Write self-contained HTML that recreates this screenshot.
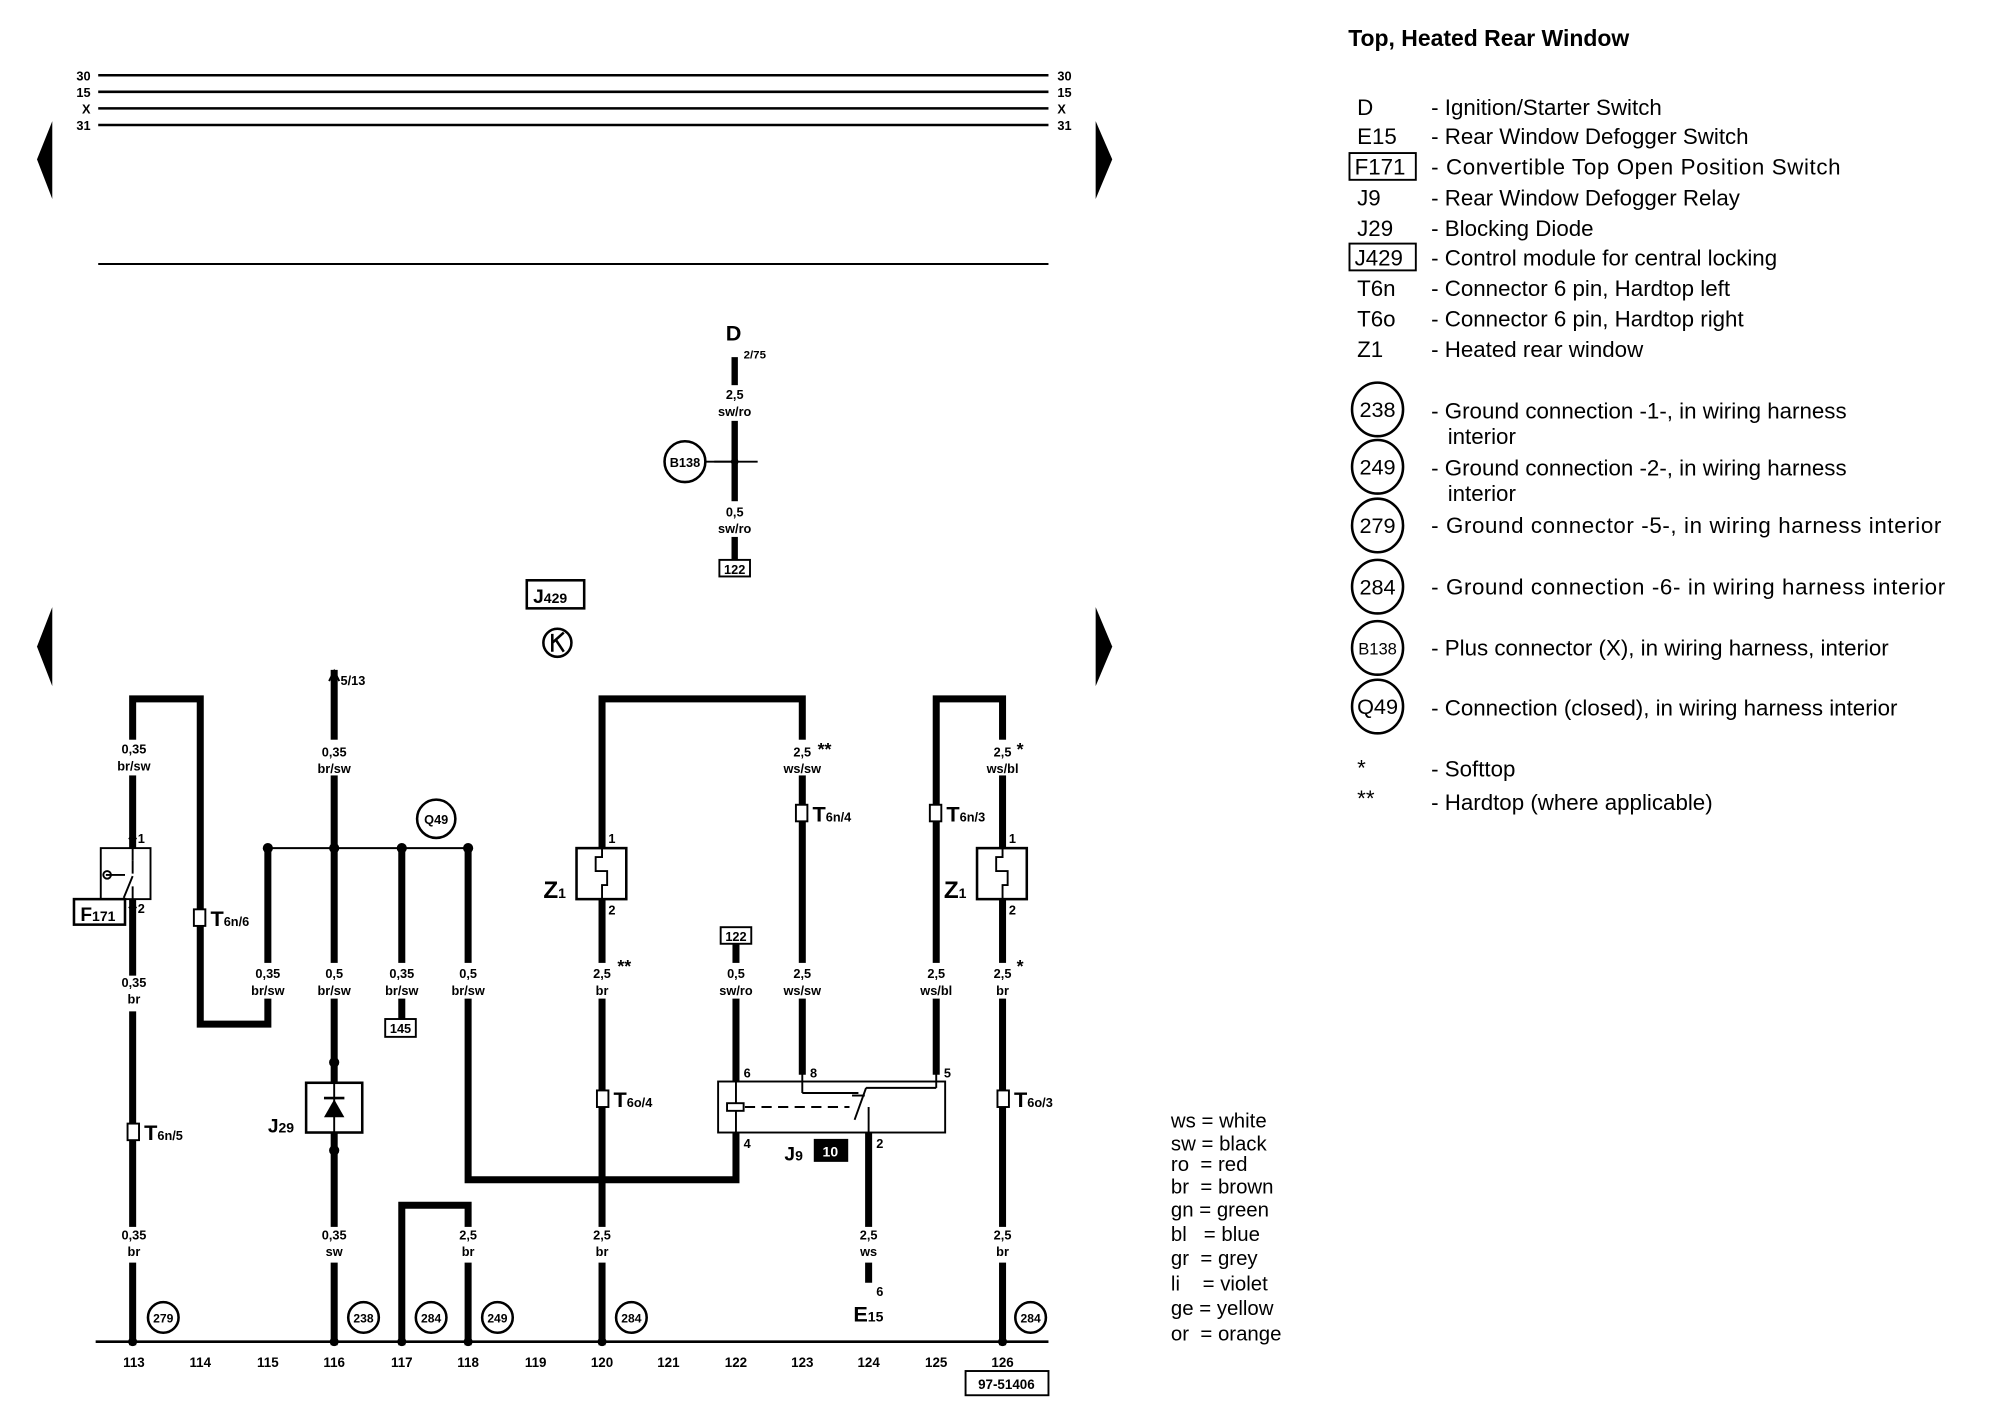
<!DOCTYPE html>
<html><head><meta charset="utf-8"><style>
html,body{margin:0;padding:0;background:#fff}
svg{display:block}
.b{font-family:"Liberation Sans",sans-serif;font-weight:bold}
.n{font-family:"Liberation Sans",sans-serif}
</style></head><body>
<svg width="2000" height="1408" viewBox="0 0 1568 1104" preserveAspectRatio="none" xmlns="http://www.w3.org/2000/svg">
<rect width="1568" height="1104" fill="#fff"/>
<!-- bus lines -->
<g stroke="#000" stroke-width="2">
<line x1="77" y1="59" x2="822" y2="59"/><line x1="77" y1="72" x2="822" y2="72"/>
<line x1="77" y1="85" x2="822" y2="85"/><line x1="77" y1="98" x2="822" y2="98"/>
<line x1="77" y1="207" x2="822" y2="207" stroke-width="1.5"/>
<line x1="75" y1="1052" x2="822" y2="1052"/>
</g>
<g class="b" font-size="10" text-anchor="end">
<text x="71" y="63">30</text><text x="71" y="76">15</text><text x="71" y="89">X</text><text x="71" y="102">31</text>
</g>
<g class="b" font-size="10">
<text x="829" y="63">30</text><text x="829" y="76">15</text><text x="829" y="89">X</text><text x="829" y="102">31</text>
</g>
<!-- triangles -->
<g fill="#000">
<polygon points="41,95 41,156 29,125"/><polygon points="859,95 859,156 872,125"/>
<polygon points="41,476 41,538 29,507"/><polygon points="859,476 859,538 872,507"/>
</g>
<!-- D -->
<text class="b" x="569" y="267" font-size="17">D</text>
<text class="b" x="583" y="281" font-size="9">2/75</text>
<g stroke="#000" stroke-width="5" fill="none">
<line x1="576" y1="280" x2="576" y2="440"/>
</g>
<line x1="560" y1="362" x2="594" y2="362" stroke="#000" stroke-width="1.5"/>
<line x1="553" y1="362" x2="576" y2="362" stroke="#000" stroke-width="1.5"/>
<circle cx="576" cy="362" r="3" fill="#000"/>
<circle cx="537" cy="362" r="16" fill="#fff" stroke="#000" stroke-width="2"/>
<text class="b" x="537" y="366" font-size="10" text-anchor="middle">B138</text>
<rect x="558" y="302" width="36" height="28" fill="#fff"/>
<text class="b" x="576" y="313" font-size="10" text-anchor="middle">2,5</text>
<text class="b" x="576" y="326" font-size="10" text-anchor="middle">sw/ro</text>
<rect x="558" y="393" width="36" height="28" fill="#fff"/>
<text class="b" x="576" y="405" font-size="10" text-anchor="middle">0,5</text>
<text class="b" x="576" y="418" font-size="10" text-anchor="middle">sw/ro</text>
<rect x="564" y="439" width="24" height="13" fill="#fff" stroke="#000" stroke-width="1.5"/>
<text class="b" x="576" y="450" font-size="10" text-anchor="middle">122</text>
<!-- J429 -->
<rect x="413" y="455" width="45" height="22" fill="#fff" stroke="#000" stroke-width="2"/>
<text class="b" x="418" y="473" font-size="15">J<tspan font-size="11">429</tspan></text>
<circle cx="437" cy="504" r="11" fill="none" stroke="#000" stroke-width="2"/>
<path d="M433,497 L433,511 M433,504 L442,496 M436,502 L442,511" stroke="#000" stroke-width="2" fill="none"/>

<!-- thick wires -->
<g stroke="#000" stroke-width="5.5" fill="none" stroke-linejoin="miter" stroke-linecap="square">
<polyline points="104,1052 104,548 157,548 157,803 210,803 210,665"/>
<line x1="262" y1="528" x2="262" y2="1052"/>
<line x1="315" y1="665" x2="315" y2="798"/>
<polyline points="367,665 367,925 577,925 577,741"/>
<polyline points="472,1052 472,548 629,548 629,840"/>
<polyline points="734,840 734,548 786,548 786,1052"/>
<polyline points="315,1052 315,945 367,945 367,1052"/>
<line x1="681" y1="888" x2="681" y2="1003"/>
</g>
<path d="M258,534 L262,526 L266,534" stroke="#000" stroke-width="1.5" fill="none"/>
<text class="b" x="267" y="537" font-size="10">5/13</text>
<line x1="210" y1="665" x2="367" y2="665" stroke="#000" stroke-width="1.5"/>
<g fill="#000"><circle cx="210" cy="665" r="4"/><circle cx="262" cy="665" r="4"/><circle cx="315" cy="665" r="4"/><circle cx="367" cy="665" r="4"/>
<circle cx="262" cy="833" r="4"/><circle cx="262" cy="902" r="4"/></g>
<circle cx="342" cy="642" r="15" fill="#fff" stroke="#000" stroke-width="2"/>
<text class="b" x="342" y="646" font-size="10" text-anchor="middle">Q49</text>

<!-- wire labels -->
<g class="b" font-size="10" text-anchor="middle">
<g fill="#fff"><rect x="87" y="580" width="36" height="28"/><rect x="245" y="580" width="36" height="28"/>
<rect x="87" y="765" width="36" height="28"/><rect x="192" y="755" width="36" height="28"/><rect x="245" y="755" width="36" height="28"/><rect x="297" y="755" width="36" height="28"/><rect x="349" y="755" width="36" height="28"/>
<rect x="455" y="755" width="36" height="28"/><rect x="559" y="755" width="36" height="28"/><rect x="611" y="755" width="36" height="28"/><rect x="716" y="755" width="36" height="28"/><rect x="769" y="755" width="36" height="28"/>
<rect x="611" y="580" width="36" height="28"/><rect x="769" y="580" width="36" height="28"/>
<rect x="87" y="962" width="36" height="28"/><rect x="245" y="962" width="36" height="28"/><rect x="349" y="962" width="36" height="28"/><rect x="455" y="962" width="36" height="28"/><rect x="663" y="962" width="36" height="28"/><rect x="769" y="962" width="36" height="28"/>
</g>
<text x="105" y="591">0,35</text><text x="105" y="604">br/sw</text>
<text x="262" y="593">0,35</text><text x="262" y="606">br/sw</text>
<text x="105" y="774">0,35</text><text x="105" y="787">br</text>
<text x="210" y="767">0,35</text><text x="210" y="780">br/sw</text>
<text x="262" y="767">0,5</text><text x="262" y="780">br/sw</text>
<text x="315" y="767">0,35</text><text x="315" y="780">br/sw</text>
<text x="367" y="767">0,5</text><text x="367" y="780">br/sw</text>
<text x="472" y="767">2,5</text><text x="472" y="780">br</text>
<text x="577" y="767">0,5</text><text x="577" y="780">sw/ro</text>
<text x="629" y="767">2,5</text><text x="629" y="780">ws/sw</text>
<text x="734" y="767">2,5</text><text x="734" y="780">ws/bl</text>
<text x="786" y="767">2,5</text><text x="786" y="780">br</text>
<text x="629" y="593">2,5</text><text x="629" y="606">ws/sw</text>
<text x="786" y="593">2,5</text><text x="786" y="606">ws/bl</text>
<text x="105" y="972">0,35</text><text x="105" y="985">br</text>
<text x="262" y="972">0,35</text><text x="262" y="985">sw</text>
<text x="367" y="972">2,5</text><text x="367" y="985">br</text>
<text x="472" y="972">2,5</text><text x="472" y="985">br</text>
<text x="681" y="972">2,5</text><text x="681" y="985">ws</text>
<text x="786" y="972">2,5</text><text x="786" y="985">br</text>
</g>
<g class="b" font-size="14"><text x="641" y="592">**</text><text x="797" y="592">*</text><text x="484" y="762">**</text><text x="797" y="762">*</text></g>

<!-- small boxes -->
<rect x="302" y="799" width="24" height="14" fill="#fff" stroke="#000" stroke-width="1.5"/>
<text class="b" x="314" y="810" font-size="10" text-anchor="middle">145</text>
<rect x="565" y="727" width="24" height="13" fill="#fff" stroke="#000" stroke-width="1.5"/>
<text class="b" x="577" y="738" font-size="10" text-anchor="middle">122</text>

<!-- F171 -->
<rect x="79" y="665" width="39" height="40" fill="#fff" stroke="#000" stroke-width="1.5"/>
<line x1="104" y1="655" x2="104" y2="675" stroke="#000" stroke-width="1.5"/>
<path d="M104,687 L97,704 M104,675 L104,685 M83,686 L98,686 M104,695 L104,705" stroke="#000" stroke-width="1.5" fill="none"/>
<circle cx="84" cy="686" r="3" fill="none" stroke="#000" stroke-width="1.5"/>
<rect x="58" y="705" width="40" height="20" fill="#fff" stroke="#000" stroke-width="2"/>
<text class="b" x="63" y="722" font-size="15">F<tspan font-size="11">171</tspan></text>
<text class="b" x="108" y="661" font-size="10">1</text><text class="b" x="108" y="716" font-size="10">2</text>
<path d="M101,658 L104,654 L107,658 M101,711 L104,715 L107,711" stroke="#000" stroke-width="1.2" fill="none"/>

<!-- connectors -->
<g fill="#fff" stroke="#000" stroke-width="1.5">
<rect x="152" y="713" width="9" height="13"/><rect x="100" y="881" width="9" height="13"/>
<rect x="468" y="855" width="9" height="13"/><rect x="624" y="631" width="9" height="13"/>
<rect x="729" y="631" width="9" height="13"/><rect x="782" y="855" width="9" height="13"/>
</g>
<g class="b" font-size="17">
<text x="165" y="726">T<tspan font-size="10">6n/6</tspan></text>
<text x="113" y="894">T<tspan font-size="10">6n/5</tspan></text>
<text x="481" y="868">T<tspan font-size="10">6o/4</tspan></text>
<text x="637" y="644">T<tspan font-size="10">6n/4</tspan></text>
<text x="742" y="644">T<tspan font-size="10">6n/3</tspan></text>
<text x="795" y="868">T<tspan font-size="10">6o/3</tspan></text>
</g>

<!-- J29 -->
<rect x="240" y="849" width="44" height="39" fill="#fff" stroke="#000" stroke-width="2"/>
<line x1="262" y1="833" x2="262" y2="902" stroke="#000" stroke-width="1.5"/>
<polygon points="254,876 270,876 262,862" fill="#000"/><line x1="254" y1="861" x2="270" y2="861" stroke="#000" stroke-width="2"/>
<text class="b" x="210" y="888" font-size="15">J<tspan font-size="11">29</tspan></text>

<!-- Z1 -->
<g fill="#fff" stroke="#000" stroke-width="2">
<rect x="452" y="665" width="39" height="40"/><rect x="766" y="665" width="39" height="40"/>
</g>
<g stroke="#000" stroke-width="1.5" fill="none">
<path d="M472,655 L472,672 L467,672 L467,683 L476,683 L476,694 L472,694 L472,715"/>
<path d="M786,655 L786,672 L781,672 L781,683 L790,683 L790,694 L786,694 L786,715"/>
</g>
<g class="b" font-size="10"><text x="477" y="661">1</text><text x="477" y="717">2</text><text x="791" y="661">1</text><text x="791" y="717">2</text></g>
<g class="b" font-size="19"><text x="426" y="704">Z<tspan font-size="11">1</tspan></text><text x="740" y="704">Z<tspan font-size="11">1</tspan></text></g>

<!-- J9 -->
<rect x="563" y="848" width="178" height="40" fill="#fff" stroke="#000" stroke-width="1.5"/>
<g stroke="#000" stroke-width="1.5" fill="none">
<line x1="577" y1="838" x2="577" y2="898"/>
<line x1="629" y1="838" x2="629" y2="857"/><line x1="629" y1="857" x2="673" y2="857"/><line x1="668" y1="859" x2="678" y2="859"/>
<line x1="734" y1="838" x2="734" y2="853"/><line x1="734" y1="853" x2="679" y2="853"/><line x1="679" y1="853" x2="670" y2="878"/>
<line x1="681" y1="868" x2="681" y2="898"/>
<line x1="584" y1="868" x2="666" y2="868" stroke-dasharray="8,5"/>
</g>
<rect x="570" y="865" width="13" height="6" fill="#fff" stroke="#000" stroke-width="1.5"/>
<g class="b" font-size="10"><text x="583" y="845">6</text><text x="635" y="845">8</text><text x="740" y="845">5</text><text x="583" y="900">4</text><text x="687" y="900">2</text></g>
<text class="b" x="615" y="910" font-size="15">J<tspan font-size="11">9</tspan></text>
<rect x="638" y="893" width="27" height="18" fill="#000"/>
<text class="b" x="651" y="907" font-size="11" fill="#fff" text-anchor="middle">10</text>
<text class="b" x="669" y="1036" font-size="17">E<tspan font-size="11">15</tspan></text>
<text class="b" x="687" y="1016" font-size="10">6</text>

<!-- grounds -->
<g fill="#fff" stroke="#000" stroke-width="2">
<circle cx="128" cy="1033" r="12"/><circle cx="285" cy="1033" r="12"/><circle cx="338" cy="1033" r="12"/>
<circle cx="390" cy="1033" r="12"/><circle cx="495" cy="1033" r="12"/><circle cx="808" cy="1033" r="12"/>
</g>
<g class="b" font-size="9.5" text-anchor="middle">
<text x="128" y="1037">279</text><text x="285" y="1037">238</text><text x="338" y="1037">284</text>
<text x="390" y="1037">249</text><text x="495" y="1037">284</text><text x="808" y="1037">284</text>
</g>
<g fill="#000"><circle cx="104" cy="1052" r="3.5"/><circle cx="262" cy="1052" r="3.5"/><circle cx="315" cy="1052" r="3.5"/><circle cx="367" cy="1052" r="3.5"/><circle cx="472" cy="1052" r="3.5"/><circle cx="786" cy="1052" r="3.5"/></g>
<g class="b" font-size="10.5" text-anchor="middle">
<text x="105" y="1072">113</text><text x="157" y="1072">114</text><text x="210" y="1072">115</text><text x="262" y="1072">116</text>
<text x="315" y="1072">117</text><text x="367" y="1072">118</text><text x="420" y="1072">119</text><text x="472" y="1072">120</text>
<text x="524" y="1072">121</text><text x="577" y="1072">122</text><text x="629" y="1072">123</text><text x="681" y="1072">124</text>
<text x="734" y="1072">125</text><text x="786" y="1072">126</text>
</g>
<rect x="757" y="1075" width="65" height="19" fill="#fff" stroke="#000" stroke-width="1.5"/>
<text class="b" x="789" y="1089" font-size="10.5" text-anchor="middle">97-51406</text>

<!-- colour key -->
<g class="n" font-size="16">
<text x="918" y="884">ws = white</text><text x="918" y="902">sw = black</text><text x="918" y="918">ro&#160;&#160;= red</text>
<text x="918" y="936">br&#160;&#160;= brown</text><text x="918" y="954">gn = green</text><text x="918" y="973">bl&#160;&#160;&#160;= blue</text>
<text x="918" y="992">gr&#160;&#160;= grey</text><text x="918" y="1012">li&#160;&#160;&#160;&#160;= violet</text>
<text x="918" y="1031">ge = yellow</text><text x="918" y="1051">or&#160;&#160;= orange</text>
</g>

<!-- legend -->
<text class="b" x="1057" y="36" font-size="18">Top, Heated Rear Window</text>
<g class="n" font-size="17.5">
<text x="1064" y="90">D</text><text x="1064" y="113">E15</text><text x="1062" y="137">F171</text><text x="1064" y="161">J9</text>
<text x="1064" y="185">J29</text><text x="1062" y="208">J429</text><text x="1064" y="232">T6n</text><text x="1064" y="256">T6o</text><text x="1064" y="280">Z1</text>
</g>
<rect x="1058" y="120" width="52" height="21" fill="none" stroke="#000" stroke-width="1.5"/>
<rect x="1058" y="191" width="52" height="21" fill="none" stroke="#000" stroke-width="1.5"/>
<g class="n" font-size="17.5">
<text x="1122" y="90">- Ignition/Starter Switch</text>
<text x="1122" y="113">- Rear Window Defogger Switch</text>
<text x="1122" y="137" textLength="321">- Convertible Top Open Position Switch</text>
<text x="1122" y="161">- Rear Window Defogger Relay</text>
<text x="1122" y="185">- Blocking Diode</text>
<text x="1122" y="208">- Control module for central locking</text>
<text x="1122" y="232">- Connector 6 pin, Hardtop left</text>
<text x="1122" y="256">- Connector 6 pin, Hardtop right</text>
<text x="1122" y="280">- Heated rear window</text>
<text x="1122" y="328">- Ground connection -1-, in wiring harness</text>
<text x="1135" y="348">interior</text>
<text x="1122" y="373">- Ground connection -2-, in wiring harness</text>
<text x="1135" y="393">interior</text>
<text x="1122" y="418" textLength="400">- Ground connector -5-, in wiring harness interior</text>
<text x="1122" y="466" textLength="403">- Ground connection -6- in wiring harness interior</text>
<text x="1122" y="514">- Plus connector (X), in wiring harness, interior</text>
<text x="1122" y="561">- Connection (closed), in wiring harness interior</text>
<text x="1064" y="608">*</text><text x="1064" y="632">**</text>
<text x="1122" y="609">- Softtop</text>
<text x="1122" y="635">- Hardtop (where applicable)</text>
</g>
<g fill="none" stroke="#000" stroke-width="2">
<ellipse cx="1080" cy="321" rx="20" ry="21"/><ellipse cx="1080" cy="366" rx="20" ry="21"/><ellipse cx="1080" cy="412" rx="20" ry="21"/>
<ellipse cx="1080" cy="460" rx="20" ry="21"/><ellipse cx="1080" cy="508" rx="20" ry="21"/><ellipse cx="1080" cy="554" rx="20" ry="21"/>
</g>
<g class="n" font-size="17" text-anchor="middle">
<text x="1080" y="327">238</text><text x="1080" y="372">249</text><text x="1080" y="418">279</text><text x="1080" y="466">284</text>
<text x="1080" y="513" font-size="13">B138</text><text x="1080" y="560">Q49</text>
</g>
</svg>
</body></html>
